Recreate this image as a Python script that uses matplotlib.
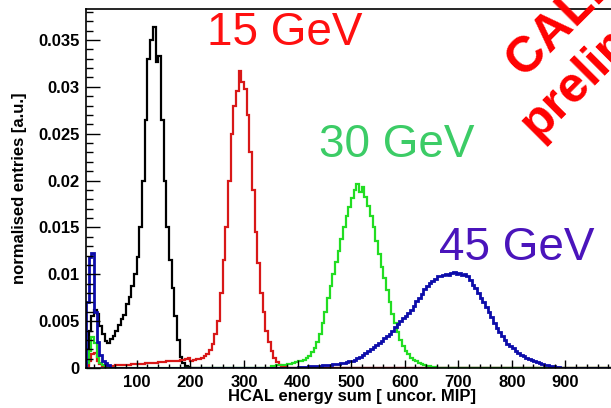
import numpy as np
import matplotlib
matplotlib.use("Agg")
import matplotlib.pyplot as plt
from matplotlib.ticker import MultipleLocator, FuncFormatter

plt.rcParams['font.family'] = ['Liberation Sans', 'DejaVu Sans']

# histogram contents, bin width 5 MIP, each segment starts at the given x
bin_width = 5
x_lo, x_hi = 5, 1000

black_start = 5
black_vals = [0.0020, 0.0040, 0.0055, 0.0062, 0.0058, 0.0045, 0.0036, 0.0029, 0.0027, 0.0031,
              0.0034, 0.0040, 0.0046, 0.0052, 0.0057, 0.0068, 0.0076, 0.0088, 0.0100, 0.0118,
              0.0150, 0.0200, 0.0265, 0.0330, 0.0350, 0.0364, 0.0326, 0.0333, 0.0265, 0.0200,
              0.0150, 0.0115, 0.0085, 0.0055, 0.0030, 0.0012, 0.0005, 0.0002, 0.0001]

red_start = 5
red_vals = [0.0002, 0.0008, 0.0015, 0.0016, 0.0008, 0.0004,
            0.0002, 0.0002, 0.0002, 0.0002, 0.0002, 0.0003, 0.0003, 0.0003, 0.0003, 0.0003,
            0.0003, 0.0004, 0.0004, 0.0004, 0.0004, 0.0004, 0.0005, 0.0005, 0.0005, 0.0005,
            0.0005, 0.0006, 0.0006, 0.0006, 0.0007, 0.0007, 0.0007, 0.0008, 0.0008, 0.0009,
            0.0009, 0.0010, 0.0011,
            0.0008, 0.0009, 0.0010, 0.0010, 0.0011, 0.0013, 0.0015, 0.0019, 0.0026, 0.0036,
            0.0050, 0.0080, 0.0115, 0.0150, 0.0200, 0.0250, 0.0280, 0.0295, 0.0317, 0.0305,
            0.0298, 0.0270, 0.0230, 0.0190, 0.0145, 0.0112, 0.0080, 0.0060, 0.0040, 0.0028,
            0.0018, 0.0011, 0.0006, 0.0003, 0.0002, 0.0001]

green_spike_start = 5
green_spike = [0.0005, 0.0018, 0.0033, 0.0027, 0.0012, 0.0005, 0.0003]
green_main_start = 350
green_main = [0.0002, 0.0002, 0.0003, 0.0003, 0.0003, 0.0003, 0.0004, 0.0004, 0.0005, 0.0006,
              0.0007, 0.0008, 0.0009, 0.0011, 0.0013, 0.0017, 0.0021, 0.0028, 0.0036, 0.0048,
              0.0060, 0.0075, 0.0088, 0.0100, 0.0113, 0.0125, 0.0138, 0.0150, 0.0162, 0.0172,
              0.0181, 0.0190, 0.0196, 0.0188, 0.0193, 0.0182, 0.0173, 0.0162, 0.0150, 0.0136,
              0.0122, 0.0108, 0.0096, 0.0083, 0.0070, 0.0058, 0.0048, 0.0038, 0.0030, 0.0024,
              0.0018, 0.0015, 0.0011, 0.0009, 0.0007, 0.0005, 0.0004, 0.0003, 0.0002, 0.0002,
              0.0001, 0.0001]

blue_spike_start = 5
blue_spike = [0.0070, 0.0118, 0.0123, 0.0060, 0.0028, 0.0014, 0.0008, 0.0005, 0.0003]
blue_main_start = 400
blue_main = [0.0001, 0.0001, 0.0001, 0.0001, 0.0002, 0.0002, 0.0002, 0.0002, 0.0002, 0.0003,
             0.0003, 0.0003, 0.0003, 0.0004, 0.0004, 0.0004, 0.0005, 0.0005, 0.0006, 0.0007,
             0.0008, 0.0009, 0.0011, 0.0012, 0.0014, 0.0016, 0.0018, 0.0020, 0.0022, 0.0025,
             0.0027, 0.0029, 0.0032, 0.0034, 0.0036, 0.0040, 0.0044, 0.0047, 0.0050, 0.0053,
             0.0056, 0.0059, 0.0062, 0.0066, 0.0071, 0.0075, 0.0079, 0.0084, 0.0087, 0.0091,
             0.0093, 0.0095, 0.0098, 0.0098, 0.0099, 0.0100, 0.0099, 0.0101, 0.0102, 0.0100,
             0.0101, 0.0099, 0.0100, 0.0098, 0.0094, 0.0089, 0.0085, 0.0080, 0.0075, 0.0070,
             0.0065, 0.0060, 0.0054, 0.0048, 0.0043, 0.0038, 0.0034, 0.0030, 0.0026, 0.0023,
             0.0021, 0.0018, 0.0016, 0.0014, 0.0013, 0.0011, 0.0010, 0.0009, 0.0007, 0.0006,
             0.0005, 0.0004, 0.0003, 0.0003, 0.0002, 0.0002, 0.0001, 0.0001]

energies = ['15 GeV', '30 GeV', '45 GeV']


def full_hist(*segments):
    edges = np.arange(x_lo, x_hi + bin_width, bin_width)
    vals = np.zeros(len(edges) - 1)
    for start, seg in segments:
        i = (start - x_lo) // bin_width
        vals[i:i + len(seg)] = seg
    return vals, edges


W, H = 611, 408
fig = plt.figure(figsize=(W / 100, H / 100), dpi=100)
ax = fig.add_axes([85.5 / W, 40 / H, (619 - 85.5) / W, 359 / H])

for segs, col, lw in [([(black_start, black_vals)], 'black', 1.6),
                      ([(red_start, red_vals)], '#d81818', 1.6),
                      ([(green_spike_start, green_spike), (green_main_start, green_main)], '#22dd22', 1.6),
                      ([(blue_spike_start, blue_spike), (blue_main_start, blue_main)], '#0c0caa', 2.0)]:
    v, e = full_hist(*segs)
    ax.stairs(v, e, color=col, lw=lw)

ax.set_xlim(4.3, 1000)
ax.set_ylim(0, 0.0383)
ax.xaxis.set_major_locator(MultipleLocator(100))
ax.xaxis.set_minor_locator(MultipleLocator(20))
ax.yaxis.set_major_locator(MultipleLocator(0.005))
ax.yaxis.set_minor_locator(MultipleLocator(0.001))
ax.yaxis.set_major_formatter(FuncFormatter(lambda v, p: '%g' % round(v, 4)))
# the 1000 label falls off the cropped figure in the original
ax.xaxis.set_major_formatter(FuncFormatter(lambda v, p: '%d' % v if v < 950 else ''))
ax.tick_params(axis='y', which='major', direction='in', length=10, width=1, pad=4)
ax.tick_params(axis='y', which='minor', direction='in', length=5, width=1)
ax.tick_params(axis='x', which='major', direction='in', length=6, width=1, pad=5)
ax.tick_params(axis='x', which='minor', direction='in', length=3, width=1)
for lab in ax.get_xticklabels() + ax.get_yticklabels():
    lab.set_fontweight('bold')
    lab.set_fontsize(12)
for s in ax.spines.values():
    s.set_linewidth(1.2)

fig.text(352 / W, 1 - 397 / H, 'HCAL energy sum [ uncor. MIP]', ha='center', va='center',
         fontsize=12, fontweight='bold')
fig.text(20 / W, 1 - 188 / H, 'normalised entries [a.u.]', ha='center', va='center',
         rotation=90, fontsize=12, fontweight='bold')

fig.text(285 / W, 1 - 45 / H, energies[0], color='#ff1010', fontsize=33, ha='center', va='baseline')
fig.text(397 / W, 1 - 157 / H, energies[1], color='#3ccc66', fontsize=33, ha='center', va='baseline')
fig.text(517 / W, 1 - 260 / H, energies[2], color='#4a14bb', fontsize=33, ha='center', va='baseline')

fig.text(590 / W, 1 - 12 / H, 'CALICE', color='red', fontsize=36, fontweight='bold',
         rotation=45, rotation_mode='anchor', ha='center', va='baseline')
fig.text(633 / W, 1 - 45 / H, 'preliminary', color='red', fontsize=36, fontweight='bold',
         rotation=45, rotation_mode='anchor', ha='center', va='baseline')

fig.savefig('out.png', dpi=100)
